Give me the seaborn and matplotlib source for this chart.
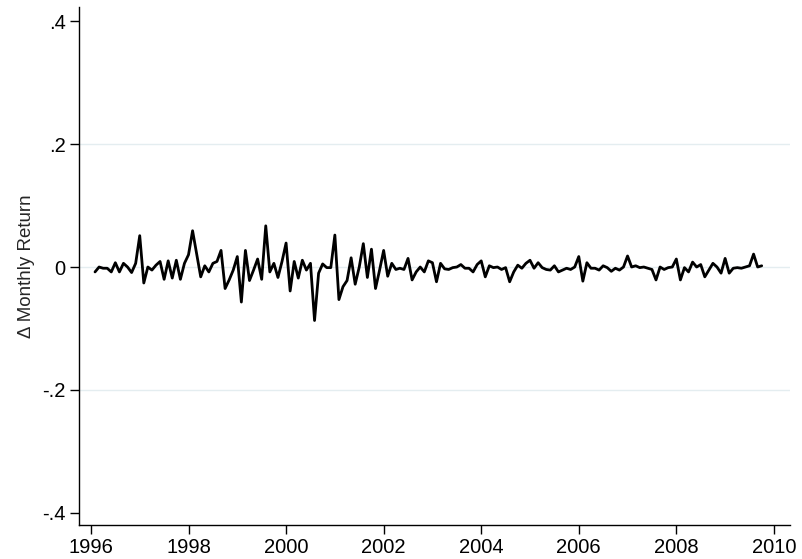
import numpy as np
import pandas as pd
import matplotlib
matplotlib.use("Agg")
import matplotlib.pyplot as plt
import seaborn as sns

# Monthly change in return, Feb 1996 - Oct 2009
r1996 = [-0.008, 0.000, -0.002, -0.002, -0.008, 0.007, -0.008, 0.006, 0.000, -0.009, 0.006]  # Feb-Dec
r1997 = [0.051, -0.026, 0.000, -0.005, 0.003, 0.009, -0.020, 0.010, -0.018, 0.011, -0.020, 0.006]
r1998 = [0.020, 0.059, 0.022, -0.016, 0.002, -0.008, 0.006, 0.009, 0.027, -0.035, -0.021, -0.005]
r1999 = [0.017, -0.057, 0.027, -0.022, -0.005, 0.013, -0.020, 0.067, -0.008, 0.006, -0.017, 0.009]
r2000 = [0.039, -0.039, 0.009, -0.018, 0.011, -0.005, 0.006, -0.087, -0.010, 0.005, -0.001, -0.001]
r2001 = [0.052, -0.053, -0.032, -0.022, 0.015, -0.028, 0.000, 0.038, -0.017, 0.029, -0.035, -0.005]
r2002 = [0.027, -0.015, 0.006, -0.004, -0.002, -0.004, 0.014, -0.021, -0.008, 0.000, -0.008, 0.010]
r2003 = [0.007, -0.024, 0.006, -0.003, -0.004, -0.001, 0.000, 0.004, -0.002, -0.002, -0.008, 0.004]
r2004 = [0.010, -0.016, 0.002, -0.001, 0.000, -0.004, -0.001, -0.024, -0.008, 0.003, -0.002, 0.006]
r2005 = [0.011, -0.002, 0.007, -0.001, -0.004, -0.005, 0.002, -0.008, -0.005, -0.002, -0.004, 0.000]
r2006 = [0.017, -0.023, 0.007, -0.002, -0.002, -0.005, 0.002, -0.001, -0.007, -0.002, -0.005, 0.000]
r2007 = [0.018, 0.000, 0.002, -0.001, 0.000, -0.002, -0.004, -0.021, 0.000, -0.004, -0.001, 0.000]
r2008 = [0.013, -0.021, -0.001, -0.008, 0.008, 0.000, 0.004, -0.016, -0.005, 0.006, 0.000, -0.010]
r2009 = [0.014, -0.010, -0.002, -0.001, -0.002, 0.000, 0.002, 0.021, 0.000, 0.002]  # Jan-Oct

x_ticks = [1996, 1998, 2000, 2002, 2004, 2006, 2008, 2010]
y_ticks = [-0.4, -0.2, 0.0, 0.2, 0.4]
y_tick_labels = ["-.4", "-.2", "0", ".2", ".4"]
y_label = "\u0394 Monthly Return"

values = np.concatenate([r1996, r1997, r1998, r1999, r2000, r2001, r2002,
                         r2003, r2004, r2005, r2006, r2007, r2008, r2009])
dates = pd.period_range("1996-02", periods=len(values), freq="M")
t = dates.year + (dates.month - 1) / 12.0
df = pd.DataFrame({"t": t, "ret": values})

sns.set_style("white")
plt.rcParams["font.family"] = ["Liberation Sans", "DejaVu Sans"]

fig = plt.figure(figsize=(8.03, 5.59), dpi=100)
ax = fig.add_axes([79 / 803, 1 - 525 / 559, (790 - 79) / 803, (525 - 7) / 559])

for yv in [-0.2, 0.2, 0.0]:
    ax.axhline(yv, color="#e4edf0", lw=1.0, zorder=0)

sns.lineplot(data=df, x="t", y="ret", ax=ax, color="black", lw=2.0, zorder=3)

ax.set_xlim(1995.755, 2010.33)
ax.set_ylim(-0.4197, 0.423)
ax.set_xticks(x_ticks)
ax.set_xticklabels([str(v) for v in x_ticks])
ax.set_yticks(y_ticks)
ax.set_yticklabels(y_tick_labels)
ax.set_xlabel("")
ax.set_ylabel(y_label, fontsize=13.5, labelpad=5)

for s in ["top", "right"]:
    ax.spines[s].set_visible(False)
for s in ["left", "bottom"]:
    ax.spines[s].set_color("black")
    ax.spines[s].set_linewidth(1.0)

ax.tick_params(axis="both", which="major", direction="out", length=6.5, width=1,
               color="black", labelsize=14.5, labelcolor="black", pad=3,
               left=True, bottom=True)
ax.grid(False)

fig.savefig("out.png", dpi=100)
